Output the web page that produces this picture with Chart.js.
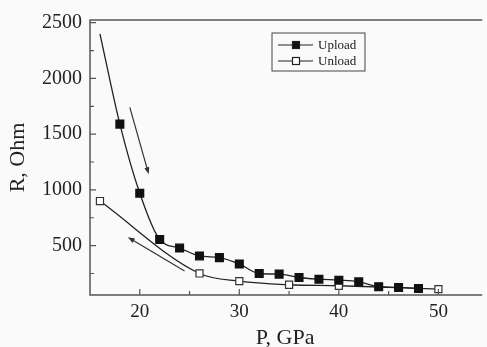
<!DOCTYPE html>
<html>
<head>
<meta charset="utf-8">
<script src="https://cdn.jsdelivr.net/npm/chart.js@4/dist/chart.umd.min.js"></script>
<style>
  html, body { margin: 0; padding: 0; background: #fafafa; }
</style>
</head>
<body>
<canvas id="chart" width="487" height="347"></canvas>
<script>
// values
const uploadP = [16, 18, 20, 22, 24, 26, 28, 30, 32, 34, 36, 38, 40, 42, 44, 46, 48];
const uploadR = [2400, 1590, 970, 555, 478, 407, 392, 335, 250, 244, 214, 199, 190, 175, 131, 125, 116];
const unloadP = [16, 26, 30, 35, 40, 50];
const unloadR = [900, 250, 181, 149, 140, 110];

const xTicks = [20, 30, 40, 50];
const yTicks = [500, 1000, 1500, 2000, 2500];

// arrows, in data units: [P, R] start -> end
const arrows = [
  { from: [19.0, 1740], to: [20.9, 1140] },
  { from: [24.5, 273], to: [18.8, 576] }
];

const ink = '#222';
const axisInk = '#555';
const serif = "'Liberation Serif', 'DejaVu Serif', serif";

const toPoints = (xs, ys) => xs.map((x, i) => ({ x, y: ys[i] }));

const framePlugin = {
  id: 'frame',
  afterDatasetsDraw(chart) {
    const { ctx, chartArea: a, scales } = chart;
    const x = scales.x, y = scales.y;
    ctx.save();
    ctx.strokeStyle = axisInk;
    ctx.lineWidth = 1.5;
    ctx.beginPath();
    ctx.moveTo(a.right + 2, a.top);
    ctx.lineTo(a.left, a.top);
    ctx.lineTo(a.left, a.bottom);
    ctx.lineTo(a.right + 2, a.bottom);
    ctx.stroke();

    // inward ticks, minors halfway between majors
    ctx.lineWidth = 1.2;
    ctx.beginPath();
    const yStep = yTicks[1] - yTicks[0];
    for (let v = yTicks[0] - yStep / 2; v <= yTicks[yTicks.length - 1]; v += yStep / 2) {
      const py = y.getPixelForValue(v);
      const len = yTicks.includes(v) ? 6 : 4;
      ctx.moveTo(a.left, py);
      ctx.lineTo(a.left + len, py);
    }
    const xStep = xTicks[1] - xTicks[0];
    for (let v = xTicks[0]; v <= xTicks[xTicks.length - 1]; v += xStep / 2) {
      const px = x.getPixelForValue(v);
      const len = xTicks.includes(v) ? 6 : 4;
      ctx.moveTo(px, a.bottom);
      ctx.lineTo(px, a.bottom - len);
    }
    ctx.stroke();

    // arrows
    ctx.strokeStyle = '#333';
    ctx.fillStyle = '#333';
    ctx.lineWidth = 1.2;
    arrows.forEach(ar => {
      const x0 = x.getPixelForValue(ar.from[0]), y0 = y.getPixelForValue(ar.from[1]);
      const x1 = x.getPixelForValue(ar.to[0]), y1 = y.getPixelForValue(ar.to[1]);
      const ang = Math.atan2(y1 - y0, x1 - x0);
      ctx.beginPath();
      ctx.moveTo(x0, y0);
      ctx.lineTo(x1 - 4 * Math.cos(ang), y1 - 4 * Math.sin(ang));
      ctx.stroke();
      ctx.beginPath();
      ctx.moveTo(x1, y1);
      ctx.lineTo(x1 - 7 * Math.cos(ang) + 2.5 * Math.sin(ang), y1 - 7 * Math.sin(ang) - 2.5 * Math.cos(ang));
      ctx.lineTo(x1 - 7 * Math.cos(ang) - 2.5 * Math.sin(ang), y1 - 7 * Math.sin(ang) + 2.5 * Math.cos(ang));
      ctx.closePath();
      ctx.fill();
    });

    // legend box
    const bx = 272, by = 33, bw = 93, bh = 38;
    ctx.strokeStyle = '#444';
    ctx.lineWidth = 1;
    ctx.strokeRect(bx, by, bw, bh);
    ctx.font = '13px ' + serif;
    ctx.textBaseline = 'middle';
    chart.data.datasets.forEach((ds, i) => {
      const ry = 45 + i * 16;
      ctx.strokeStyle = ink;
      ctx.lineWidth = 1.2;
      ctx.beginPath();
      ctx.moveTo(278, ry);
      ctx.lineTo(313, ry);
      ctx.stroke();
      ctx.fillStyle = ds.pointBackgroundColor;
      ctx.fillRect(292.5, ry - 3.5, 7, 7);
      ctx.strokeRect(292.5, ry - 3.5, 7, 7);
      ctx.fillStyle = ink;
      ctx.fillText(ds.label, 318, ry + 1);
    });
    ctx.restore();
  }
};

new Chart(document.getElementById('chart'), {
  type: 'line',
  data: {
    datasets: [
      {
        label: 'Upload',
        data: toPoints(uploadP, uploadR),
        borderColor: ink,
        borderWidth: 1.3,
        pointStyle: 'rect',
        pointRadius: uploadP.map((p, i) => i === 0 ? 0 : 5.5),
        pointBackgroundColor: '#111',
        pointBorderColor: '#111',
        cubicInterpolationMode: 'monotone',
        fill: false
      },
      {
        label: 'Unload',
        data: toPoints(unloadP, unloadR),
        borderColor: ink,
        borderWidth: 1.3,
        pointStyle: 'rect',
        pointRadius: 5,
        pointBorderWidth: 1.2,
        pointBackgroundColor: '#fff',
        pointBorderColor: '#333',
        cubicInterpolationMode: 'monotone',
        fill: false
      }
    ]
  },
  options: {
    responsive: false,
    animation: false,
    layout: { padding: { top: 18, left: 0, right: 0, bottom: 0 } },
    plugins: {
      legend: { display: false },
      tooltip: { enabled: false }
    },
    scales: {
      x: {
        type: 'linear',
        min: 15,
        max: 54.2,
        afterBuildTicks: s => { s.ticks = xTicks.map(v => ({ value: v })); },
        afterFit: s => { s.height = 52; },
        grid: { display: false, drawTicks: false },
        border: { display: false },
        ticks: { color: ink, padding: 6, font: { family: serif, size: 19 }, callback: v => String(v) },
        title: {
          display: true,
          text: 'P, GPa',
          color: ink,
          padding: { top: 0, bottom: -2 },
          font: { family: serif, size: 22, lineHeight: 1 }
        }
      },
      y: {
        min: 57,
        max: 2524,
        afterBuildTicks: s => { s.ticks = yTicks.map(v => ({ value: v })); },
        afterFit: s => { s.width = 90; },
        grid: { display: false, drawTicks: false },
        border: { display: false },
        ticks: { color: ink, padding: 8, font: { family: serif, size: 20 }, callback: v => String(v) },
        title: {
          display: true,
          text: 'R, Ohm',
          color: ink,
          padding: { top: 5, bottom: 0 },
          font: { family: serif, size: 22, lineHeight: 1.2 }
        }
      }
    }
  },
  plugins: [framePlugin]
});
</script>
</body>
</html>
